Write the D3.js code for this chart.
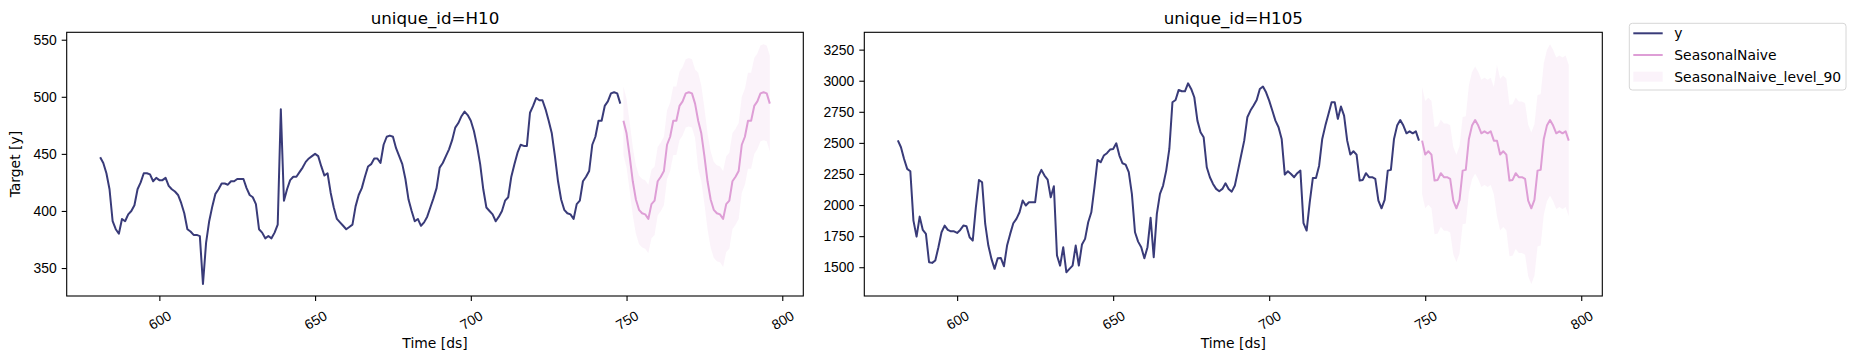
<!DOCTYPE html>
<html>
<head>
<meta charset="utf-8">
<script src="https://cdn.jsdelivr.net/npm/d3@7"></script>
<style>
    html, body { margin: 0; padding: 0; background: #ffffff; }
    svg { display: block; font-family: "DejaVu Sans", sans-serif; }
</style>
</head>
<body>
<div id="chart"></div>
<script>
// first ds of the history window and of the forecast window
var historyStart = 581,
    forecastStart = 749
;

var xTicks = [600, 650, 700, 750, 800];
var yTicksH10 = [350, 400, 450, 500, 550];
var yTicksH105 = [1500, 1750, 2000, 2250, 2500, 2750, 3000, 3250];
var legendLabels = ['y', 'SeasonalNaive', 'SeasonalNaive_level_90'];

var yH10 = [
    447, 442, 433, 419, 391, 384, 380, 393, 391, 397, 400, 405, 419, 425, 433, 433, 432, 426, 429, 427,
    427, 429, 422, 419, 417, 414, 407, 398, 384, 382, 379, 379, 378, 336, 372, 391, 404, 415, 419, 424,
    424, 423, 426, 426, 428, 428, 428, 420, 414, 412, 406, 384, 381, 376, 378, 376, 381, 388, 489, 409,
    419, 427, 430, 430, 434, 438, 443, 446, 448, 450, 448, 439, 431, 433, 416, 403, 393, 390, 387, 384,
    386, 388, 404, 414, 420, 430, 439, 441, 446, 446, 442, 458, 465, 466, 465, 455, 448, 441, 428, 410,
    400, 391, 393, 387, 390, 395, 403, 411, 420, 438, 442, 448, 454, 462, 473, 477, 483, 487, 484, 479,
    470, 457, 441, 419, 403, 400, 397, 391, 395, 400, 409, 412, 430, 441, 451, 458, 457, 457, 486, 492,
    499, 497, 497, 489, 479, 468, 448, 426, 410, 401, 398, 397, 393, 406, 409, 426, 430, 435, 458, 465,
    479, 479, 492, 496, 503, 504, 503, 494
];
var fcH10 = [
    479, 468, 448, 426, 410, 401, 398, 397, 393, 406, 409, 426, 430, 435, 458, 465, 479, 479, 492, 496, 503, 504, 503, 494,
    479, 468, 448, 426, 410, 401, 398, 397, 393, 406, 409, 426, 430, 435, 458, 465, 479, 479, 492, 496, 503, 504, 503, 494
];
var loH10 = [
    449, 438, 418, 396, 380, 371, 368, 367, 363, 376, 379, 396, 400, 405, 428, 435, 449, 449, 462, 466, 473, 474, 473, 464,
    437, 426, 406, 384, 368, 359, 356, 355, 351, 364, 367, 384, 388, 393, 416, 423, 437, 437, 450, 454, 461, 462, 461, 452
];
var hiH10 = [
    509, 498, 478, 456, 440, 431, 428, 427, 423, 436, 439, 456, 460, 465, 488, 495, 509, 509, 522, 526, 533, 534, 533, 524,
    521, 510, 490, 468, 452, 443, 440, 439, 435, 448, 451, 468, 472, 477, 500, 507, 521, 521, 534, 538, 545, 546, 545, 536
];

var yH105 = [
    2520, 2465, 2371, 2291, 2272, 1875, 1746, 1907, 1800, 1768, 1540, 1535, 1554, 1661, 1781, 1835, 1800, 1789, 1789, 1776,
    1800, 1835, 1830, 1741, 1714, 1982, 2202, 2183, 1848, 1674, 1567, 1487, 1572, 1575, 1508, 1674, 1768, 1854, 1889, 1942,
    2036, 1996, 2023, 2023, 2023, 2229, 2283, 2237, 2205, 2063, 2151, 1594, 1513, 1661, 1460, 1487, 1513, 1674, 1513, 1682,
    1728, 1862, 1942, 2143, 2363, 2344, 2398, 2417, 2446, 2451, 2497, 2398, 2336, 2325, 2264, 2090, 1781, 1706, 1661, 1572,
    1661, 1897, 1580, 1929, 2090, 2157, 2277, 2451, 2827, 2845, 2926, 2915, 2915, 2979, 2934, 2867, 2679, 2585, 2545, 2304,
    2224, 2170, 2130, 2111, 2130, 2175, 2130, 2108, 2157, 2277, 2398, 2518, 2706, 2760, 2800, 2845, 2934, 2953, 2907, 2840,
    2760, 2679, 2626, 2532, 2245, 2272, 2250, 2224, 2256, 2277, 1854, 1795, 2023, 2218, 2218, 2317, 2532, 2639, 2733, 2827,
    2827, 2693, 2792, 2719, 2518, 2406, 2433, 2406, 2197, 2202, 2256, 2224, 2224, 2210, 2036, 1974, 2041, 2277, 2283, 2532,
    2639, 2684, 2639, 2577, 2593, 2577, 2593, 2518
];
var fcH105 = [
    2518, 2406, 2433, 2406, 2197, 2202, 2256, 2224, 2224, 2210, 2036, 1974, 2041, 2277, 2283, 2532, 2639, 2684, 2639, 2577, 2593, 2577, 2593, 2518,
    2518, 2406, 2433, 2406, 2197, 2202, 2256, 2224, 2224, 2210, 2036, 1974, 2041, 2277, 2283, 2532, 2639, 2684, 2639, 2577, 2593, 2577, 2593, 2518
];
var loH105 = [
    2087, 1975, 2002, 1975, 1766, 1771, 1825, 1793, 1793, 1779, 1605, 1543, 1610, 1846, 1852, 2101, 2208, 2253, 2208, 2146, 2162, 2146, 2162, 2087,
    1909, 1797, 1824, 1797, 1588, 1593, 1647, 1615, 1615, 1601, 1427, 1365, 1432, 1668, 1674, 1923, 2030, 2075, 2030, 1968, 1984, 1968, 1984, 1909
];
var hiH105 = [
    2949, 2837, 2864, 2837, 2628, 2633, 2687, 2655, 2655, 2641, 2467, 2405, 2472, 2708, 2714, 2963, 3070, 3115, 3070, 3008, 3024, 3008, 3024, 2949,
    3127, 3015, 3042, 3015, 2806, 2811, 2865, 2833, 2833, 2819, 2645, 2583, 2650, 2886, 2892, 3141, 3248, 3293, 3248, 3186, 3202, 3186, 3202, 3127
];

var width = 1855,
    height = 361,
    plotTop = 32.3,
    plotBottom = 296,
    colorY = '#393b79',
    colorFc = '#de9ed6',
    bandOpacity = 0.12
;

var panels = [
    { title: 'unique_id=H10', left: 66.7, right: 803.3, y: yH10, fc: fcH10, lo: loH10, hi: hiH10, yTicks: yTicksH10, ylabel: true },
    { title: 'unique_id=H105', left: 864.3, right: 1602.3, y: yH105, fc: fcH105, lo: loH105, hi: hiH105, yTicks: yTicksH105, ylabel: false }
];

var svg = d3
    .select('#chart')
    .append('svg')
    .attr('width', width)
    .attr('height', height)
;

function padded(ext) {
    var m = (ext[1] - ext[0]) * 0.05;
    return [ext[0] - m, ext[1] + m];
}

function drawPanel(p) {
    var hist = p.y.map(function(v, i) { return { ds: historyStart + i, v: v }; });
    var fc = p.fc.map(function(v, i) { return { ds: forecastStart + i, v: v, lo: p.lo[i], hi: p.hi[i] }; });

    var x = d3.scaleLinear()
        .domain(padded([historyStart, forecastStart + p.fc.length - 1]))
        .range([p.left, p.right])
    ;
    var y = d3.scaleLinear()
        .domain(padded([d3.min(p.y.concat(p.lo)), d3.max(p.y.concat(p.hi))]))
        .range([plotBottom, plotTop])
    ;

    var g = svg.append('g');

    g.append('path')
        .datum(fc)
        .attr('fill', colorFc)
        .attr('fill-opacity', bandOpacity)
        .attr('d', d3.area()
            .x(function(d) { return x(d.ds); })
            .y0(function(d) { return y(d.lo); })
            .y1(function(d) { return y(d.hi); })
        )
    ;

    g.append('path')
        .datum(hist)
        .attr('fill', 'none')
        .attr('stroke', colorY)
        .attr('stroke-width', 2)
        .attr('stroke-linejoin', 'round')
        .attr('d', d3.line()
            .x(function(d) { return x(d.ds); })
            .y(function(d) { return y(d.v); })
        )
    ;

    g.append('path')
        .datum(fc)
        .attr('fill', 'none')
        .attr('stroke', colorFc)
        .attr('stroke-width', 2)
        .attr('stroke-linejoin', 'round')
        .attr('d', d3.line()
            .x(function(d) { return x(d.ds); })
            .y(function(d) { return y(d.v); })
        )
    ;

    // frame
    g.append('rect')
        .attr('x', p.left)
        .attr('y', plotTop)
        .attr('width', p.right - p.left)
        .attr('height', plotBottom - plotTop)
        .attr('fill', 'none')
        .attr('stroke', '#000')
        .attr('stroke-width', 1.1)
    ;

    var xAxis = g.append('g')
        .attr('transform', 'translate(0,' + plotBottom + ')')
        .call(d3.axisBottom(x).tickValues(xTicks).tickSize(5).tickPadding(5).tickFormat(d3.format('d')))
    ;
    xAxis.select('.domain').remove();
    xAxis.selectAll('text')
        .attr('font-size', 13.9)
        .attr('fill', '#000')
        .attr('y', null)
        .attr('dy', null)
        .attr('dominant-baseline', 'central')
        .attr('transform', 'translate(0,24) rotate(-30)')
    ;

    var yAxis = g.append('g')
        .attr('transform', 'translate(' + p.left + ',0)')
        .call(d3.axisLeft(y).tickValues(p.yTicks).tickSize(5).tickPadding(5).tickFormat(d3.format('d')))
    ;
    yAxis.select('.domain').remove();
    yAxis.selectAll('text')
        .attr('font-size', 13.9)
        .attr('fill', '#000')
    ;
    g.selectAll('.tick line').attr('stroke', '#000').attr('stroke-width', 1.1);

    var cx = (p.left + p.right) / 2;

    g.append('text')
        .attr('x', cx)
        .attr('y', 24)
        .attr('text-anchor', 'middle')
        .attr('font-size', 16.7)
        .text(p.title)
    ;

    g.append('text')
        .attr('x', cx)
        .attr('y', 348)
        .attr('text-anchor', 'middle')
        .attr('font-size', 13.9)
        .text('Time [ds]')
    ;

    if (p.ylabel) {
        g.append('text')
            .attr('transform', 'translate(20,' + ((plotTop + plotBottom) / 2) + ') rotate(-90)')
            .attr('text-anchor', 'middle')
            .attr('font-size', 13.9)
            .text('Target [y]')
        ;
    }
}

panels.forEach(drawPanel);

// Legend
var legend = svg.append('g')
    .attr('transform', 'translate(1629.3,23.3)')
;

legend.append('rect')
    .attr('width', 216.7)
    .attr('height', 66.7)
    .attr('rx', 3)
    .attr('fill', '#fff')
    .attr('stroke', '#d6d6d6')
    .attr('stroke-width', 1)
;

var rows = legend.selectAll('g.row')
    .data(legendLabels)
    .enter()
    .append('g')
        .attr('class', 'row')
        .attr('transform', function(d, i) {
            return 'translate(0,' + (10 + i * 21.7) + ')';
        })
;

rows.each(function(d, i) {
    var row = d3.select(this);
    if (i < 2) {
        row.append('line')
            .attr('x1', 4)
            .attr('x2', 33.4)
            .attr('stroke', i == 0 ? colorY : colorFc)
            .attr('stroke-width', 2)
        ;
    } else {
        row.append('rect')
            .attr('x', 4)
            .attr('y', -5)
            .attr('width', 29.4)
            .attr('height', 10)
            .attr('fill', colorFc)
            .attr('fill-opacity', bandOpacity)
        ;
    }
    row.append('text')
        .attr('x', 45)
        .attr('dy', '0.35em')
        .attr('font-size', 13.9)
        .text(d)
    ;
});
</script>
</body>
</html>
